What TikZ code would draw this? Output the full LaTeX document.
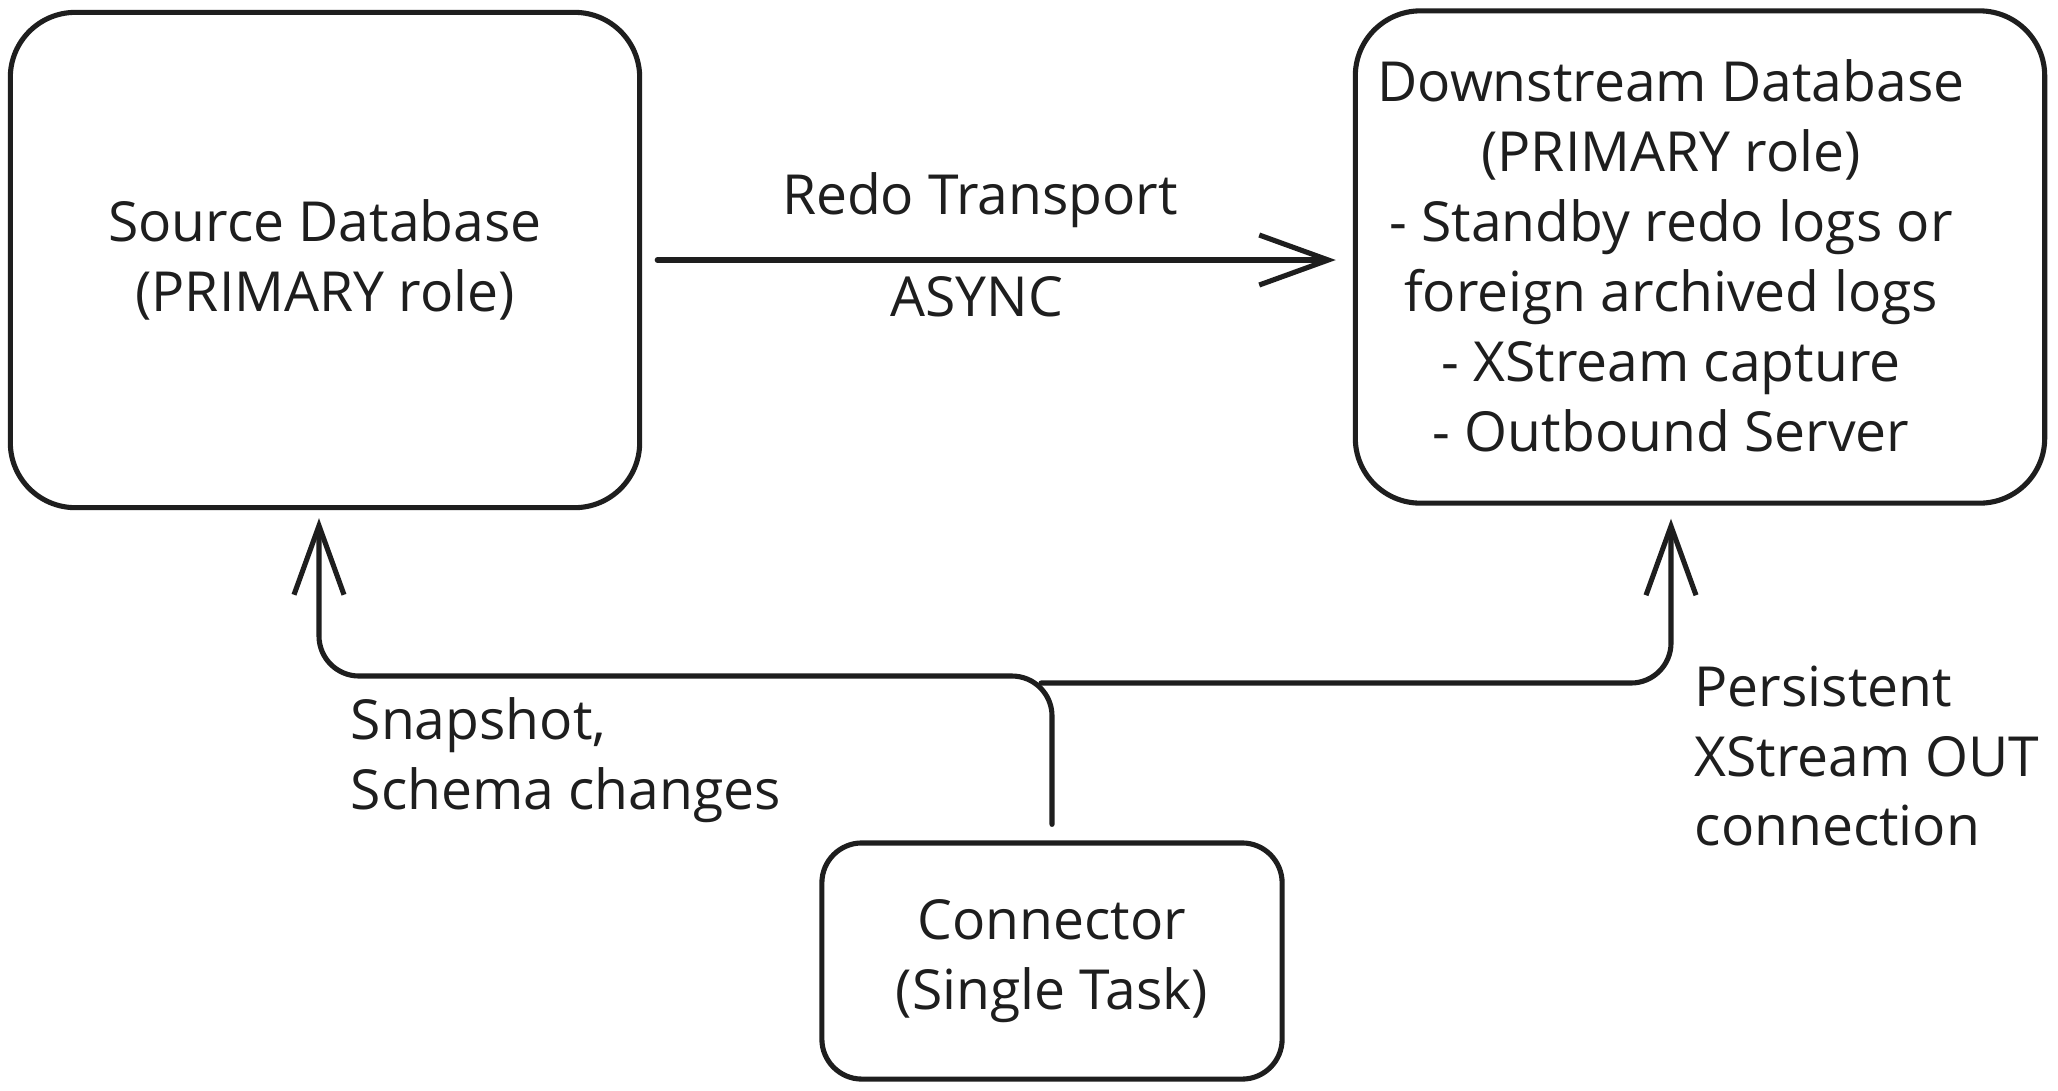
\documentclass[tikz,border=0pt]{standalone}
\usepackage{fontspec}
\setmainfont{Open Sans}
\usetikzlibrary{arrows.meta}
\definecolor{ink}{HTML}{1E1E1E}
\begin{document}
\begin{tikzpicture}[x=0.01cm,y=-0.01cm,
  lbl/.style={font=\fontsize{15.7}{19.9}\selectfont, text=ink, inner sep=0pt},
  box/.style={draw=ink, line width=1.45pt, rounded corners=0.65cm, inner sep=0pt},
  conn/.style={draw=ink, line width=1.45pt, line cap=round, line join=round,
    -{Straight Barb[length=0.69cm,width=0.5cm,line width=1.45pt]}},
]
\useasboundingbox[fill=white] (0,0) rectangle (2058,1090);
\node[box, minimum width=6.29cm, minimum height=4.95cm] (src) at (325,260) {};
\node[lbl, align=center] (srctext) at (src.center) {Source Database\\(PRIMARY role)};
\node[box, minimum width=6.89cm, minimum height=4.92cm] (dst) at (1700,257) {};
\node[lbl, align=center] (dsttext) at (1671,256)
  {Downstream Database\\(PRIMARY role)\\- Standby redo logs or\\foreign archived logs\\- XStream capture\\- Outbound Server};
\node[box, rounded corners=0.4cm, minimum width=4.60cm, minimum height=2.36cm] (con) at (1052,961) {};
\node[lbl, align=center] (context) at (con.center) {Connector\\(Single Task)};

\draw[conn] ([xshift=0.15cm]src.east) -- ([xshift=-0.17cm]dst.west |- src.east);
\node[lbl] (redo) at (980,200) {Redo Transport};
\node[lbl] (async) at (977,297) {ASYNC};

\coordinate (split) at (1041,683);
\draw[conn, rounded corners=0.4cm] ([yshift=0.16cm]con.north) -- (1052,676) -- (319,676) -- ([xshift=-0.06cm,yshift=-0.08cm]src.south);
\draw[conn, rounded corners=0.4cm] (split) -- (1671,683) -- ([xshift=-0.29cm,yshift=-0.13cm]dst.south);

\node[lbl, anchor=west, align=left] (snap) at (350,760) {Snapshot,\\Schema changes};
\node[lbl, anchor=west, align=left] (pers) at (1694,756) {Persistent\\XStream OUT\\connection};
\end{tikzpicture}
\end{document}
